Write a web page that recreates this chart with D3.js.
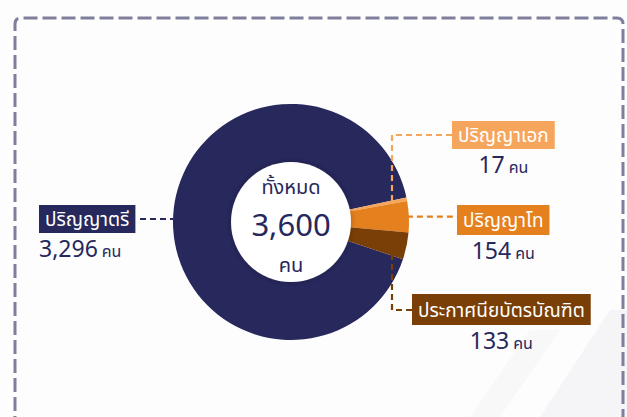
<!DOCTYPE html>
<meta charset="utf-8">
<script src="https://d3js.org/d3.v7.min.js"></script>
<style>
  body { margin: 0; background: #fdfdfd; }
  text { font-family: "Noto Sans Thai", "Noto Sans", "DejaVu Sans", sans-serif; }
</style>
<div id="chart"></div>
<script>
// data
const degrees = ["ปริญญาตรี", "ปริญญาเอก", "ปริญญาโท", "ประกาศนียบัตรบัณฑิต"];
const counts = [3296, 17, 154, 133];
const colors = ["#27285c", "#f6a65c", "#e5801e", "#7a3f06"];
const totalLabel = "ทั้งหมด";
const unit = "คน";

const width = 627, height = 417;
const cx = 291, cy = 222, rOuter = 118, rInner = 60;
const navy = "#27285c";

const svg = d3.select("#chart").append("svg")
  .attr("width", width).attr("height", height);

svg.append("rect").attr("width", width).attr("height", height).attr("fill", "#fdfdfd");

// faint background shapes
svg.append("path")
  .attr("d", "M540,417 L610,310 L627,310 L627,417 Z")
  .attr("fill", "#f5f5f7");
svg.append("path")
  .attr("d", "M470,417 L530,330 L560,330 L500,417 Z")
  .attr("fill", "#f8f8f9");

// dashed frame
svg.append("path")
  .attr("d", "M15,430 L15,24 Q15,18 21,18 L617,18 Q623,18 623,24 L623,430")
  .attr("fill", "none")
  .attr("stroke", "#7f7f9c")
  .attr("stroke-width", 3)
  .attr("stroke-dasharray", "14,5");

// pie, small slices sitting at three o'clock
const total = d3.sum(counts);
const bachelorAngle = counts[0] / total * 2 * Math.PI;
const start = (78 * Math.PI / 180) - bachelorAngle;
const pie = d3.pie().sort(null).startAngle(start).endAngle(start + 2 * Math.PI);
const arcs = pie(counts);
const arc = d3.arc().innerRadius(0).outerRadius(rOuter);

const g = svg.append("g").attr("transform", `translate(${cx},${cy})`);
g.selectAll("path.slice")
  .data(arcs)
  .join("path")
  .attr("class", "slice")
  .attr("d", arc)
  .attr("fill", (d, i) => colors[i]);

// point on a slice at given x offset from centre, along the slice mid angle
function pointAtX(d, x) {
  const a = (d.startAngle + d.endAngle) / 2;
  return [cx + x, cy - x / Math.tan(a)];
}

const defs = svg.append("defs");
const f = defs.append("filter").attr("id", "sh").attr("x", "-20%").attr("y", "-20%").attr("width", "140%").attr("height", "140%");
f.append("feDropShadow").attr("dx", 0).attr("dy", 0).attr("stdDeviation", 3).attr("flood-color", "#000").attr("flood-opacity", 0.25);

// leader lines
const lines = svg.append("g").attr("fill", "none").attr("stroke-width", 2.2).attr("stroke-dasharray", "6,4");
// bachelor
const yB = 219;
lines.append("path")
  .attr("d", `M140,${yB} L${cx - Math.sqrt(rOuter * rOuter - (yB - cy) ** 2)},${yB}`)
  .attr("stroke", colors[0]);
// doctorate
const pD = pointAtX(arcs[1], 101);
lines.append("path")
  .attr("d", `M452,135 L${pD[0]},135 L${pD[0]},${pD[1]}`)
  .attr("stroke", colors[1]);
// master
const aM = (arcs[2].startAngle + arcs[2].endAngle) / 2;
const yM = cy - rOuter * Math.cos(aM);
lines.append("path")
  .attr("d", `M${cx + rOuter * Math.sin(aM) - 2},${yM} L457,${yM}`)
  .attr("stroke", colors[2]);
// diploma
const pG = pointAtX(arcs[3], 101);
lines.append("path")
  .attr("d", `M412,310 L${pG[0]},310 L${pG[0]},${pG[1]}`)
  .attr("stroke", colors[3]);

// inner white circle
g.append("circle").attr("r", rInner).attr("fill", "#fff").attr("filter", "url(#sh)");

// centre texts
g.append("text").attr("y", -28).attr("text-anchor", "middle")
  .attr("font-size", 20).attr("fill", navy).text(totalLabel);
g.append("text").attr("y", 14).attr("text-anchor", "middle")
  .attr("font-size", 31).attr("fill", navy).text(d3.format(",")(total));
g.append("text").attr("y", 50).attr("text-anchor", "middle")
  .attr("font-size", 20).attr("fill", navy).text(unit);

// label boxes
const labelPos = [
  {x: 39, y: 205, h: 28},
  {x: 452, y: 121, h: 28},
  {x: 457, y: 205, h: 30},
  {x: 412, y: 294, h: 31}
];
const countAnchor = ["start", "middle", "middle", "middle"];

degrees.forEach((name, i) => {
  const p = labelPos[i];
  const lg = svg.append("g");
  const rect = lg.append("rect").attr("x", p.x).attr("y", p.y).attr("height", p.h).attr("fill", colors[i]);
  const t = lg.append("text")
    .attr("x", p.x + 6).attr("y", p.y + p.h / 2 + 7)
    .attr("font-size", 19).attr("fill", "#fff").text(name);
  const w = t.node().getComputedTextLength() + 12;
  rect.attr("width", w);

  const ct = lg.append("text")
    .attr("y", p.y + p.h + 24)
    .attr("fill", navy);
  ct.append("tspan").attr("font-size", 23).text(d3.format(",")(counts[i]));
  ct.append("tspan").attr("font-size", 16).attr("dx", 4).text(unit);
  if (countAnchor[i] === "start") {
    ct.attr("x", p.x);
  } else {
    ct.attr("x", p.x + w / 2).attr("text-anchor", "middle");
  }
});
</script>
